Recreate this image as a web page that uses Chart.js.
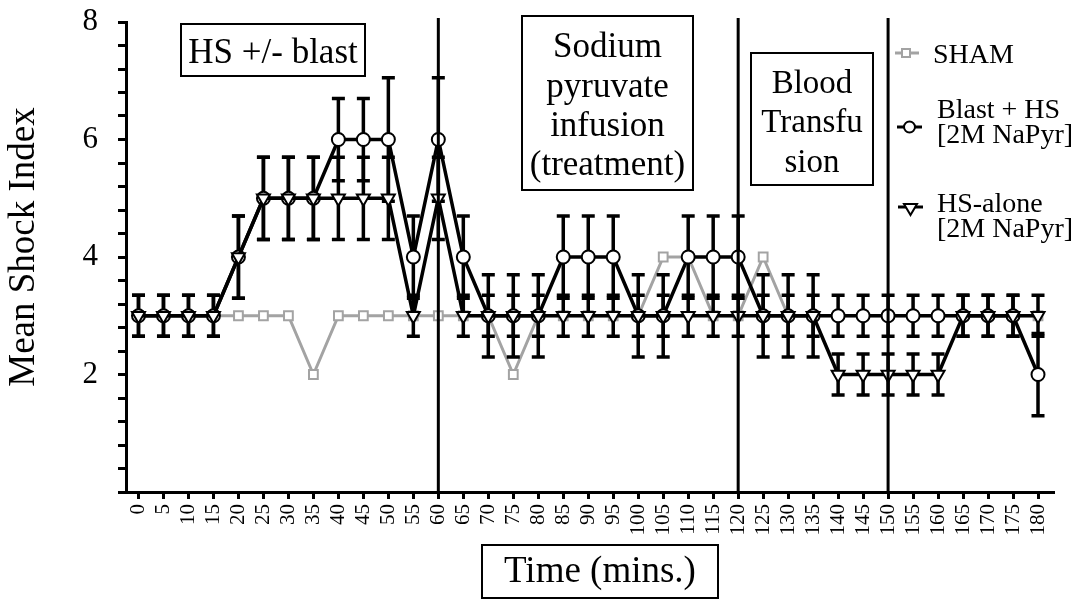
<!DOCTYPE html>
<html>
<head>
<meta charset="utf-8">
<script src="https://cdn.jsdelivr.net/npm/chart.js"></script>
<style>
html, body { margin: 0; padding: 0; background: #fff; }
canvas { display: block; }
</style>
</head>
<body>
<canvas id="shock-chart" width="1084" height="604"></canvas>
<script>
// time points (mins) and mean shock index per group
var times = [0, 5, 10, 15, 20, 25, 30, 35, 40, 45, 50, 55, 60, 65, 70, 75, 80, 85, 90,
             95, 100, 105, 110, 115, 120, 125, 130, 135, 140, 145, 150, 155, 160, 165, 170, 175, 180];

var sham = [3, 3, 3, 3, 3, 3, 3, 2, 3, 3, 3, 3, 3, 3, 3, 2, 3, 3, 3,
            3, 3, 4, 4, 3, 3, 4, 3, 3, 3, 3, 3, 3, 3, 3, 3, 3, 3];

var blastHs = [3, 3, 3, 3, 4, 5, 5, 5, 6, 6, 6, 4, 6, 4, 3, 3, 3, 4, 4,
               4, 3, 3, 4, 4, 4, 3, 3, 3, 3, 3, 3, 3, 3, 3, 3, 3, 2];
var blastHsErr = [0.35, 0.35, 0.35, 0.35, 0.7, 0.7, 0.7, 0.7, 0.7, 0.7, 1.05, 0.7, 1.05, 0.7, 0.7, 0.7, 0.7, 0.7, 0.7,
                  0.7, 0.7, 0.7, 0.7, 0.7, 0.7, 0.7, 0.7, 0.7, 0.35, 0.35, 0.35, 0.35, 0.35, 0.35, 0.35, 0.35, 0.7];

var hsAlone = [3, 3, 3, 3, 4, 5, 5, 5, 5, 5, 5, 3, 5, 3, 3, 3, 3, 3, 3,
               3, 3, 3, 3, 3, 3, 3, 3, 3, 2, 2, 2, 2, 2, 3, 3, 3, 3];
var hsAloneErr = [0.35, 0.35, 0.35, 0.35, 0.7, 0.7, 0.7, 0.7, 0.7, 0.7, 0.7, 0.35, 0.7, 0.35, 0.35, 0.35, 0.35, 0.35, 0.35,
                  0.35, 0.35, 0.35, 0.35, 0.35, 0.35, 0.35, 0.35, 0.35, 0.35, 0.35, 0.35, 0.35, 0.35, 0.35, 0.35, 0.35, 0.35];

var yTickLabels = [2, 4, 6, 8];
var eventTimes = [60, 120, 150];

var SERIF = "'Liberation Serif', 'Times New Roman', serif";
var GREY = '#a3a3a3';

function toPoints(values) {
    return values.map(function (v, i) { return { x: times[i], y: v }; });
}

function drawTextBox(ctx, x1, y1, x2, y2, lines, size, baselines) {
    ctx.save();
    ctx.strokeStyle = '#000';
    ctx.lineWidth = 2;
    ctx.strokeRect(x1, y1, x2 - x1, y2 - y1);
    ctx.fillStyle = '#000';
    ctx.font = size + 'px ' + SERIF;
    ctx.textAlign = 'center';
    ctx.textBaseline = 'alphabetic';
    for (var i = 0; i < lines.length; i++) {
        ctx.fillText(lines[i], (x1 + x2) / 2, baselines[i]);
    }
    ctx.restore();
}

// error bars go above the sham line but under the black series
var errorBars = {
    id: 'errorBars',
    afterDatasetDraw: function (chart, args) {
        if (args.index !== 0) return;
        var ctx = chart.ctx;
        var xs = chart.scales.x, ys = chart.scales.y;
        var sets = [[blastHs, blastHsErr], [hsAlone, hsAloneErr]];
        ctx.save();
        ctx.strokeStyle = '#000';
        ctx.lineWidth = 3.5;
        sets.forEach(function (s) {
            for (var i = 0; i < times.length; i++) {
                var x = xs.getPixelForValue(times[i]);
                var top = ys.getPixelForValue(s[0][i] + s[1][i]);
                var bot = ys.getPixelForValue(s[0][i] - s[1][i]);
                ctx.beginPath();
                ctx.moveTo(x, top);
                ctx.lineTo(x, bot);
                ctx.moveTo(x - 6.5, top);
                ctx.lineTo(x + 6.5, top);
                ctx.moveTo(x - 6.5, bot);
                ctx.lineTo(x + 6.5, bot);
                ctx.stroke();
            }
        });
        ctx.restore();
    }
};

var decorations = {
    id: 'decorations',
    afterDatasetsDraw: function (chart) {
        var ctx = chart.ctx;
        var xs = chart.scales.x;
        var area = chart.chartArea;
        ctx.save();
        ctx.strokeStyle = '#000';
        ctx.lineWidth = 3;
        eventTimes.forEach(function (t) {
            var x = xs.getPixelForValue(t);
            ctx.beginPath();
            ctx.moveTo(x, area.top - 4);
            ctx.lineTo(x, area.bottom);
            ctx.stroke();
        });
        ctx.restore();
    },
    afterDraw: function (chart) {
        var ctx = chart.ctx;

        drawTextBox(ctx, 181, 24, 365, 76, ['HS +/- blast'], 35, [63]);
        drawTextBox(ctx, 522, 16, 693, 190, ['Sodium', 'pyruvate', 'infusion', '(treatment)'], 35, [57, 97, 136, 175]);
        drawTextBox(ctx, 751, 53, 873, 185, ['Blood', 'Transfu', 'sion'], 33, [93, 132, 172]);
        drawTextBox(ctx, 482, 545, 718, 598, ['Time (mins.)'], 37, [582]);

        // y axis title
        ctx.save();
        ctx.fillStyle = '#000';
        ctx.font = '37px ' + SERIF;
        ctx.translate(24, 247);
        ctx.rotate(-Math.PI / 2);
        ctx.textAlign = 'center';
        ctx.textBaseline = 'middle';
        ctx.fillText('Mean Shock Index', 0, 0);
        ctx.restore();

        // legend
        ctx.save();
        ctx.font = '28px ' + SERIF;
        ctx.fillStyle = '#000';
        ctx.textBaseline = 'alphabetic';
        ctx.textAlign = 'left';

        ctx.strokeStyle = GREY;
        ctx.lineWidth = 3;
        ctx.beginPath(); ctx.moveTo(895, 53); ctx.lineTo(919, 53); ctx.stroke();
        ctx.fillStyle = '#fff';
        ctx.lineWidth = 2;
        ctx.fillRect(902, 49, 8, 8);
        ctx.strokeRect(902, 49, 8, 8);
        ctx.fillStyle = '#000';
        ctx.fillText('SHAM', 933, 63);

        ctx.strokeStyle = '#000';
        ctx.lineWidth = 3;
        ctx.beginPath(); ctx.moveTo(897, 127); ctx.lineTo(922, 127); ctx.stroke();
        ctx.fillStyle = '#fff';
        ctx.lineWidth = 2;
        ctx.beginPath(); ctx.arc(909.5, 127, 5.5, 0, Math.PI * 2); ctx.fill(); ctx.stroke();
        ctx.fillStyle = '#000';
        ctx.fillText('Blast + HS', 937, 118);
        ctx.fillText('[2M NaPyr]', 937, 143);

        ctx.lineWidth = 3;
        ctx.beginPath(); ctx.moveTo(898, 207); ctx.lineTo(923, 207); ctx.stroke();
        ctx.fillStyle = '#fff';
        ctx.lineWidth = 2;
        ctx.beginPath();
        ctx.moveTo(904, 204); ctx.lineTo(917, 204); ctx.lineTo(910.5, 215); ctx.closePath();
        ctx.fill(); ctx.stroke();
        ctx.fillStyle = '#000';
        ctx.fillText('HS-alone', 937, 212);
        ctx.fillText('[2M NaPyr]', 937, 237);
        ctx.restore();
    }
};

var chart = new Chart(document.getElementById('shock-chart'), {
    type: 'line',
    data: {
        datasets: [
            {
                label: 'SHAM',
                data: toPoints(sham),
                borderColor: GREY,
                borderWidth: 3,
                pointStyle: 'rect',
                pointRadius: 6.2,
                pointBorderWidth: 2,
                pointBackgroundColor: '#fff',
                pointBorderColor: GREY,
                order: 3
            },
            {
                label: 'Blast + HS [2M NaPyr]',
                data: toPoints(blastHs),
                borderColor: '#000',
                borderWidth: 3.5,
                pointStyle: 'circle',
                pointRadius: 6.5,
                pointBorderWidth: 2,
                pointBackgroundColor: '#fff',
                pointBorderColor: '#000',
                order: 2
            },
            {
                label: 'HS-alone [2M NaPyr]',
                data: toPoints(hsAlone),
                borderColor: '#000',
                borderWidth: 3.5,
                pointStyle: 'triangle',
                rotation: 180,
                pointRotation: 180,
                pointRadius: 7.5,
                pointBorderWidth: 2,
                pointBackgroundColor: '#fff',
                pointBorderColor: '#000',
                order: 1
            }
        ]
    },
    options: {
        responsive: false,
        animation: false,
        devicePixelRatio: 1,
        layout: { padding: { top: 22, right: 31, left: 0, bottom: 0 } },
        plugins: {
            legend: { display: false },
            tooltip: { enabled: false }
        },
        scales: {
            x: {
                type: 'linear',
                min: -2.5,
                max: 183,
                afterFit: function (scale) {
                    scale.height = 112;
                    scale.paddingLeft = 0;
                    scale.paddingRight = 0;
                },
                border: { display: true, color: '#000', width: 3 },
                grid: { drawOnChartArea: false, drawTicks: true, tickLength: 7, lineWidth: 3, color: '#000' },
                ticks: {
                    stepSize: 5,
                    includeBounds: false,
                    autoSkip: false,
                    maxRotation: 90,
                    minRotation: 90,
                    padding: 5,
                    color: '#000',
                    font: { family: SERIF, size: 21 },
                    callback: function (v) { return times.indexOf(v) >= 0 ? String(v) : ''; }
                }
            },
            y: {
                min: 0,
                max: 8,
                afterFit: function (scale) {
                    scale.width = 126;
                    scale.paddingTop = 0;
                    scale.paddingBottom = 0;
                },
                border: { display: true, color: '#000', width: 3 },
                grid: { drawOnChartArea: false, drawTicks: true, tickLength: 8, lineWidth: 3, color: '#000' },
                ticks: {
                    stepSize: 0.4,
                    autoSkip: false,
                    padding: 20,
                    color: '#000',
                    font: { family: SERIF, size: 31 },
                    callback: function (v) {
                        var r = Math.round(v);
                        return (Math.abs(v - r) < 1e-6 && yTickLabels.indexOf(r) >= 0) ? String(r) : '';
                    }
                }
            }
        }
    },
    plugins: [errorBars, decorations]
});
</script>
</body>
</html>
